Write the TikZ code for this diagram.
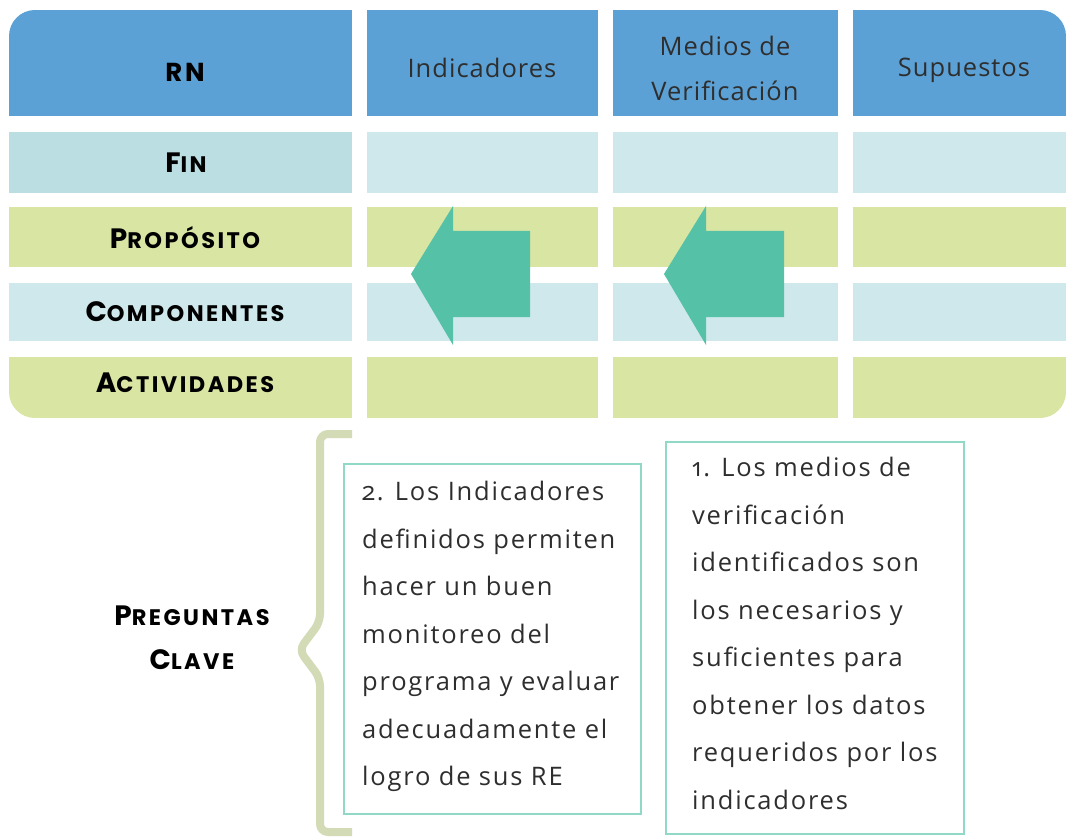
\documentclass[tikz,border=0pt]{standalone}
\usepackage{fontspec}
\setmainfont{Open Sans}[Numbers=OldStyle, LetterSpace=7]
\newfontfamily\hdfont{Open Sans}[LetterSpace=4]
\newfontfamily\lblfont{Poppins}[UprightFont=* Bold, LetterSpace=11]
\definecolor{hdr}{HTML}{5CA1D5}
\definecolor{finA}{HTML}{BBDEE3}
\definecolor{lblue}{HTML}{CFE8EC}
\definecolor{lgreen}{HTML}{D9E5A3}
\definecolor{arrc}{HTML}{55C1A7}
\definecolor{boxc}{HTML}{8FD9C6}
\definecolor{bracec}{HTML}{D2DBB5}
\definecolor{txt}{HTML}{2E2E2E}
\newcommand\smc[2]{{\lblfont\fontsize{28}{28}\selectfont #1\fontsize{22.5}{22.5}\selectfont #2}}
\tikzset{
  lbl/.style={inner sep=0pt, text=black},
  hd/.style={inner sep=0pt, text=txt, font=\hdfont\fontsize{25.5}{45}\selectfont},
  body/.style={inner sep=0pt, anchor=north west, align=left, text=txt, font=\fontsize{25.5}{47.5}\selectfont},
  qbox/.style={draw=boxc, line width=2pt, anchor=north west, inner sep=0pt},
  arrowshape/.style={fill=arrc},
  bracepath/.style={draw=bracec, line width=8pt, rounded corners=8pt}
}
\begin{document}
\begin{tikzpicture}[x=1pt,y=-1pt]
\useasboundingbox (0,0) rectangle (1068,837);
\begin{scope}
\clip[rounded corners=26pt] (9,10) rectangle (1066,418);
% header row
\fill[hdr] (9,10) rectangle (352,116);
\fill[hdr] (367,10) rectangle (598,116);
\fill[hdr] (613,10) rectangle (838,116);
\fill[hdr] (853,10) rectangle (1066,116);
% Fin
\fill[finA] (9,132) rectangle (352,193);
\fill[lblue] (367,132) rectangle (598,193);
\fill[lblue] (613,132) rectangle (838,193);
\fill[lblue] (853,132) rectangle (1066,193);
% Proposito
\fill[lgreen] (9,207) rectangle (352,267);
\fill[lgreen] (367,207) rectangle (598,267);
\fill[lgreen] (613,207) rectangle (838,267);
\fill[lgreen] (853,207) rectangle (1066,267);
% Componentes
\fill[lblue] (9,283) rectangle (352,341);
\fill[lblue] (367,283) rectangle (598,341);
\fill[lblue] (613,283) rectangle (838,341);
\fill[lblue] (853,283) rectangle (1066,341);
% Actividades
\fill[lgreen] (9,357) rectangle (352,418);
\fill[lgreen] (367,357) rectangle (598,418);
\fill[lgreen] (613,357) rectangle (838,418);
\fill[lgreen] (853,357) rectangle (1066,418);
\end{scope}
% arrows
\fill[arrowshape] (411,274) -- (453,206) -- (453,231) -- (530,231) -- (530,317) -- (453,317) -- (453,345) -- cycle;
\fill[arrowshape] (664,274) -- (706,206) -- (706,231) -- (784,231) -- (784,317) -- (706,317) -- (706,345) -- cycle;
% labels
\node[lbl] (rn) at (185,72) {\lblfont\fontsize{26}{26}\selectfont RN};
\node[lbl] (fin) at (186,163) {\smc{F}{IN}};
\node[lbl] (prop) at (185,238) {\smc{P}{ROPÓSITO}};
\node[lbl] (comp) at (185,312) {\smc{C}{OMPONENTES}};
\node[lbl] (act) at (185,383) {\smc{A}{CTIVIDADES}};
\node[hd] (ind) at (482,68) {Indicadores};
\node[hd, align=center] (med) at (725,68) {Medios de\\Verificación};
\node[hd] (sup) at (964,70) {Supuestos};
% brace
\draw[bracepath] (352,434) -- (320,434) -- (320,622) -- (299,650) -- (320,678) -- (320,832) -- (352,832);
\node[lbl, align=center, font=\fontsize{24}{44}\selectfont] (pc) at (192,638) {\smc{P}{REGUNTAS}\\\smc{C}{LAVE}};
% boxes
\node[qbox, minimum width=297pt, minimum height=350pt] (q2) at (343,463) {};
\node[qbox, minimum width=298pt, minimum height=392pt] (q1) at (665,441) {};
\node[body] (t2) at (362,481) {2. Los Indicadores\\definidos permiten\\hacer un buen\\monitoreo del\\programa y evaluar\\adecuadamente el\\logro de sus RE};
\node[body] (t1) at (692,457) {1. Los medios de\\verificación\\identificados son\\los necesarios y\\suficientes para\\obtener los datos\\requeridos por los\\indicadores};
\end{tikzpicture}
\end{document}
